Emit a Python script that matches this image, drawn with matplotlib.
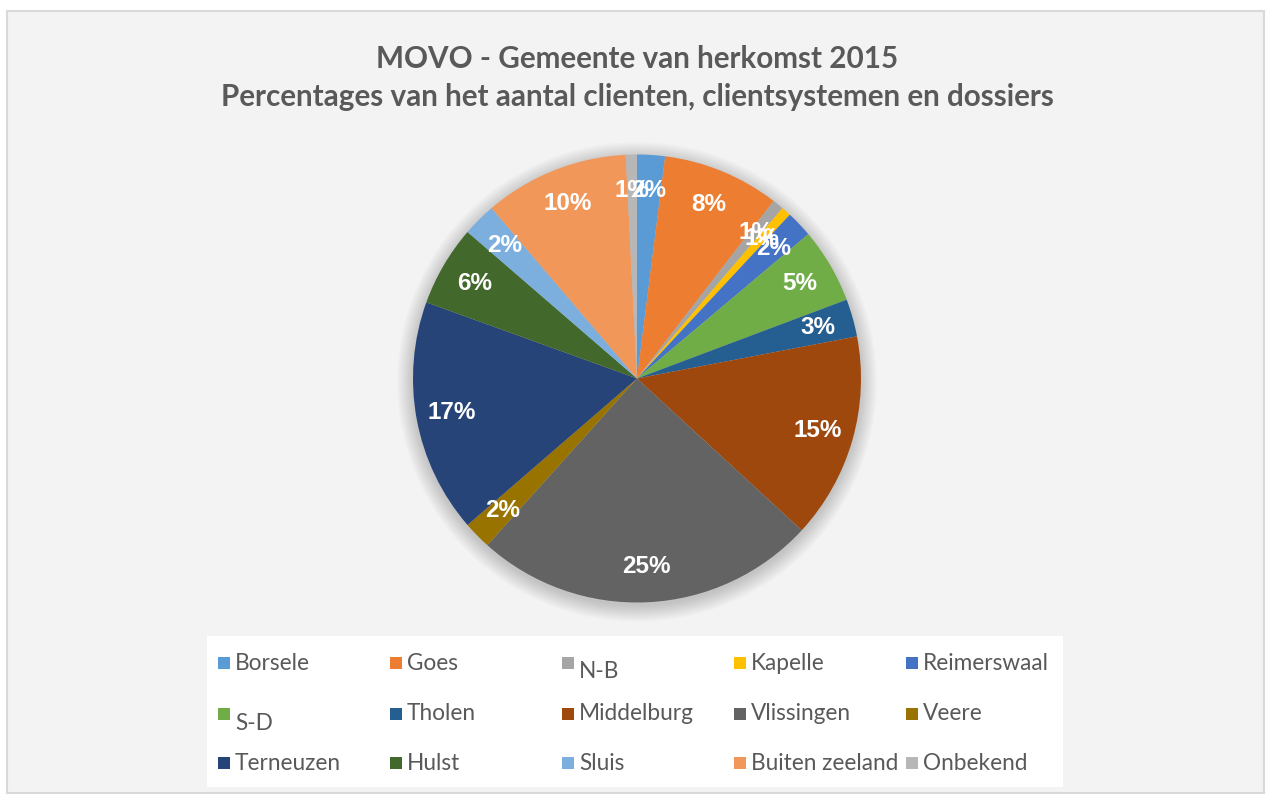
import numpy as np
import matplotlib.pyplot as plt
from matplotlib.patches import Rectangle, Circle

# data (percent share)
gemeenten = ["Borsele", "Goes", "N-B", "Kapelle", "Reimerswaal",
             "S-D", "Tholen", "Middelburg", "Vlissingen", "Veere",
             "Terneuzen", "Hulst", "Sluis", "Buiten zeeland", "Onbekend"]
aandeel = [2.0, 8.4, 0.8, 0.7, 1.9,
           5.4, 2.7, 14.8, 24.7, 2.0,
           16.8, 5.8, 2.4, 10.4, 0.8]
kleuren = ["#5B9BD5", "#ED7D31", "#A5A5A5", "#FFC000", "#4472C4",
           "#70AD47", "#255E91", "#9E480E", "#636363", "#997300",
           "#264478", "#43682B", "#7CAFDD", "#F1975A", "#B7B7B7"]

titel = "MOVO - Gemeente van herkomst 2015\nPercentages van het aantal clienten, clientsystemen en dossiers"

W, H = 1266, 794
fig = plt.figure(figsize=(W / 100, H / 100), dpi=100)
fig.patch.set_facecolor("white")

# chart area background + border
fig.patches.append(Rectangle((7 / W, 1 - 793 / H), 1257 / W, 782 / H,
                             transform=fig.transFigure, facecolor="#f3f3f3",
                             edgecolor="#d9d9d9", linewidth=1.5, zorder=0))
# legend box
fig.patches.append(Rectangle((207 / W, 1 - 787 / H), 856 / W, 151 / H,
                             transform=fig.transFigure, facecolor="white",
                             edgecolor="none", zorder=1))

fig.text(637 / W, 1 - 78 / H, titel, ha="center", va="center",
         fontsize=21.3, fontweight="bold", color="#595959",
         family="Lato", linespacing=1.45)

# pie
cx, cy, r = 637, 378.5, 224
ax = fig.add_axes([(cx - r) / W, (H - cy - r) / H, 2 * r / W, 2 * r / H])
ax.set_zorder(5)
ax.patch.set_visible(False)

# soft shadow
for rr in np.linspace(1.0, 1.07, 10):
    ax.add_patch(Circle((0.0, -0.015), rr, color="black", alpha=0.018,
                        lw=0, clip_on=False, zorder=0))

wedges, texts, autotexts = ax.pie(
    aandeel, colors=kleuren, startangle=90, counterclock=False,
    radius=1, autopct="%1.0f%%", pctdistance=0.84,
    wedgeprops=dict(linewidth=0), normalize=True)
for w in wedges:
    w.set_zorder(2)
for t in autotexts:
    t.set_color("white")
    t.set_fontweight("bold")
    t.set_fontsize(17.5)
    t.set_family("Liberation Sans")
    t.set_zorder(3)

ax.set_xlim(-1, 1)
ax.set_ylim(-1, 1)
ax.axis("off")

# legend (row-major, like Excel)
x0, dx = 218, 172
rows_y = [663, 714, 763]
for i, (naam, kl) in enumerate(zip(gemeenten, kleuren)):
    rij, kol = divmod(i, 5)
    x = x0 + kol * dx
    y = rows_y[rij]
    fig.patches.append(Rectangle((x / W, 1 - (y + 6) / H), 12 / W, 12 / H,
                                 transform=fig.transFigure, facecolor=kl,
                                 edgecolor="none", zorder=2))
    dy = 9 if naam in ("N-B", "S-D") else 0
    fig.text((x + 17) / W, 1 - (y + dy) / H, naam, ha="left", va="center",
             fontsize=16.3, color="#595959", family="Lato")

fig.savefig("out.png", dpi=100)
